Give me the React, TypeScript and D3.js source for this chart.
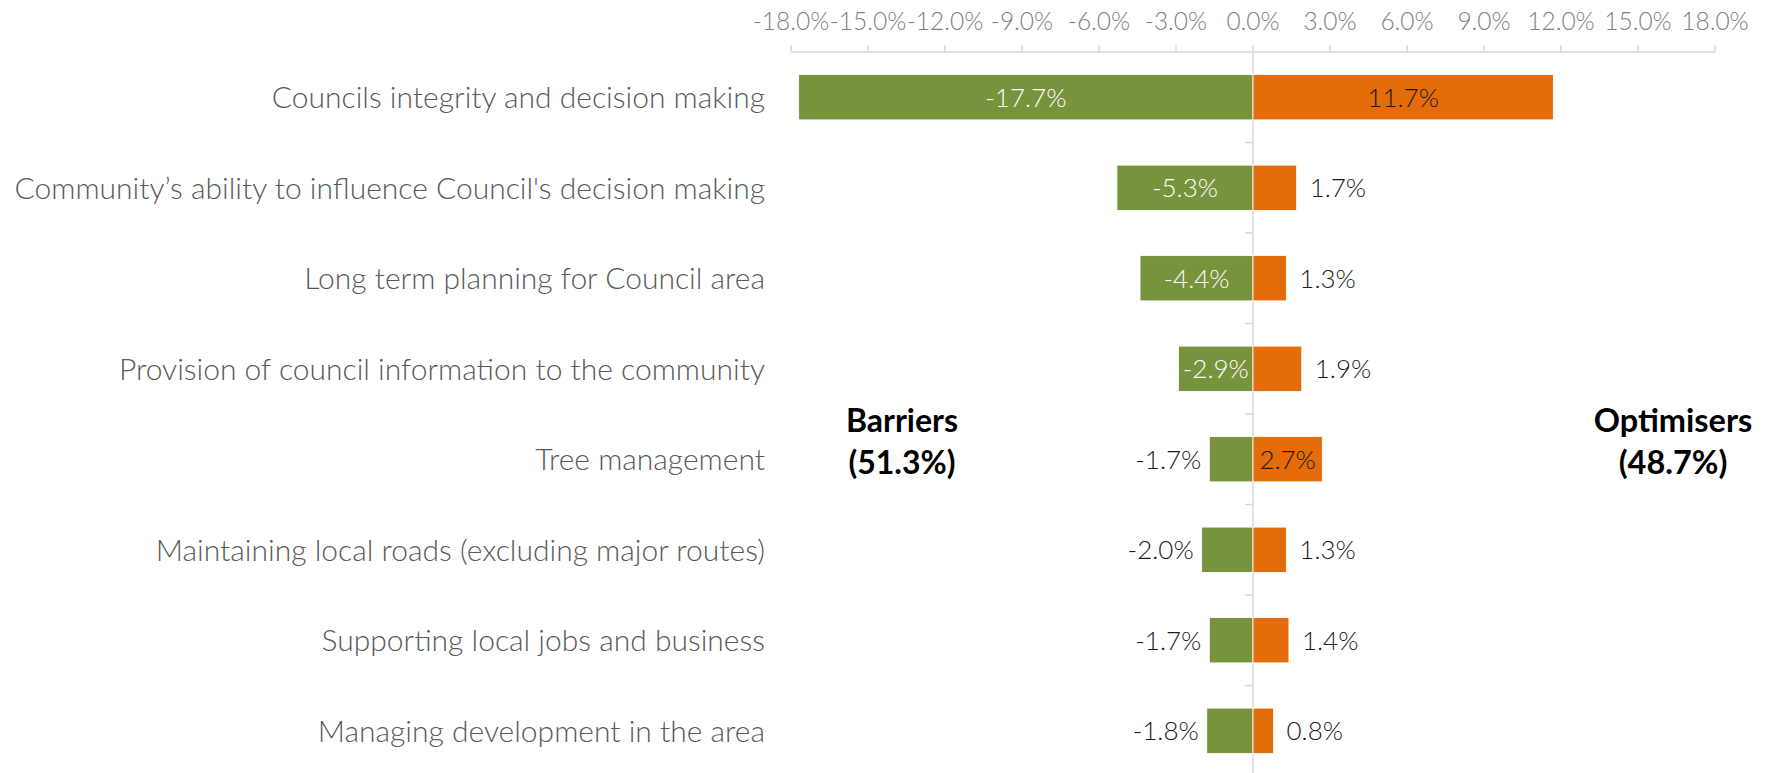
import React from "react";
import * as d3 from "d3";

const categories = [
  "Councils integrity and decision making",
  "Community\u2019s ability to influence Council's decision making",
  "Long term planning for Council area",
  "Provision of council information to the community",
  "Tree management",
  "Maintaining local roads (excluding major routes)",
  "Supporting local jobs and business",
  "Managing development in the area",
];
const barriers = [-17.7, -5.3, -4.4, -2.9, -1.7, -2.0, -1.7, -1.8];
const optimisers = [11.7, 1.7, 1.3, 1.9, 2.7, 1.3, 1.4, 0.8];
const tickValues = [-18, -15, -12, -9, -6, -3, 0, 3, 6, 9, 12, 15, 18];
const barrierInside = [true, true, true, true, false, false, false, false];
const optimiserInside = [true, false, false, false, true, false, false, false];
const barriersTitle = ["Barriers", "(51.3%)"];
const optimisersTitle = ["Optimisers", "(48.7%)"];

const W = 1775;
const H = 773;
const FONT = "Lato, 'Open Sans', sans-serif";

const fmt = (v: number) => (v < 0 ? "-" : "") + d3.format(".1f")(Math.abs(v)) + "%";

export default function App() {
  const x = d3.scaleLinear().domain([-18, 18]).range([791, 1715]);
  const y = d3.scaleBand<string>().domain(categories).range([52, 776]).paddingInner(0.5).paddingOuter(0.25);
  const bw = y.bandwidth();
  const step = y.step();
  const x0 = x(0);

  return (
    <div style={{ position: "absolute", left: 0, top: 0, width: W, height: H, background: "#fff" }}>
      <svg width={W} height={H} style={{ display: "block" }}>
        {/* top axis */}
        <line x1={x(-18)} x2={x(18)} y1={52} y2={52} stroke="#d9d9d9" strokeWidth={1.5} />
        {tickValues.map((t) => (
          <g key={t}>
            <line x1={x(t)} x2={x(t)} y1={45} y2={52} stroke="#d9d9d9" strokeWidth={1.5} />
            <text x={x(t)} y={30} textAnchor="middle" fontFamily={FONT} fontWeight={300} fontSize={24.5} fill="#808080">
              {fmt(t)}
            </text>
          </g>
        ))}
        {/* zero line */}
        <line x1={x0} x2={x0} y1={52} y2={H} stroke="#d9d9d9" strokeWidth={1.5} />
        {categories.slice(1).map((c) => (
          <line key={c} x1={x0 - 8} x2={x0} y1={(y(c) as number) - (step - bw) / 2} y2={(y(c) as number) - (step - bw) / 2} stroke="#d9d9d9" strokeWidth={1.5} />
        ))}
        {/* bars */}
        {categories.map((c, i) => {
          const yy = y(c) as number;
          const b = barriers[i];
          const o = optimisers[i];
          const cy = yy + bw / 2;
          return (
            <g key={c}>
              <rect x={x(b)} y={yy} width={x0 - x(b)} height={bw} fill="#77933c" stroke="#fff" strokeWidth={0.8} />
              <rect x={x0} y={yy} width={x(o) - x0} height={bw} fill="#e46c0a" stroke="#fff" strokeWidth={0.8} />
              <text
                x={barrierInside[i] ? (x(b) + x0) / 2 : x(b) - 8}
                y={cy}
                dy="0.36em"
                textAnchor={barrierInside[i] ? "middle" : "end"}
                fontFamily={FONT}
                fontWeight={300}
                fontSize={26}
                fill={barrierInside[i] ? "#ffffff" : "#1a1a1a"}
              >
                {fmt(b)}
              </text>
              <text
                x={optimiserInside[i] ? (x(o) + x0) / 2 : x(o) + 13}
                y={cy}
                dy="0.36em"
                textAnchor={optimiserInside[i] ? "middle" : "start"}
                fontFamily={FONT}
                fontWeight={300}
                fontSize={26}
                fill="#1a1a1a"
              >
                {fmt(o)}
              </text>
              <text x={765} y={cy} dy="0.36em" textAnchor="end" fontFamily={FONT} fontWeight={300} fontSize={30} fill="#595959">
                {c}
              </text>
            </g>
          );
        })}
        {/* group titles */}
        {barriersTitle.map((t, i) => (
          <text key={t} x={902} y={420 + i * 42} dy="0.36em" textAnchor="middle" fontFamily={FONT} fontWeight={700} fontSize={32} fill="#000">
            {t}
          </text>
        ))}
        {optimisersTitle.map((t, i) => (
          <text key={t} x={1673} y={420 + i * 42} dy="0.36em" textAnchor="middle" fontFamily={FONT} fontWeight={700} fontSize={32.5} fill="#000">
            {t}
          </text>
        ))}
      </svg>
    </div>
  );
}
